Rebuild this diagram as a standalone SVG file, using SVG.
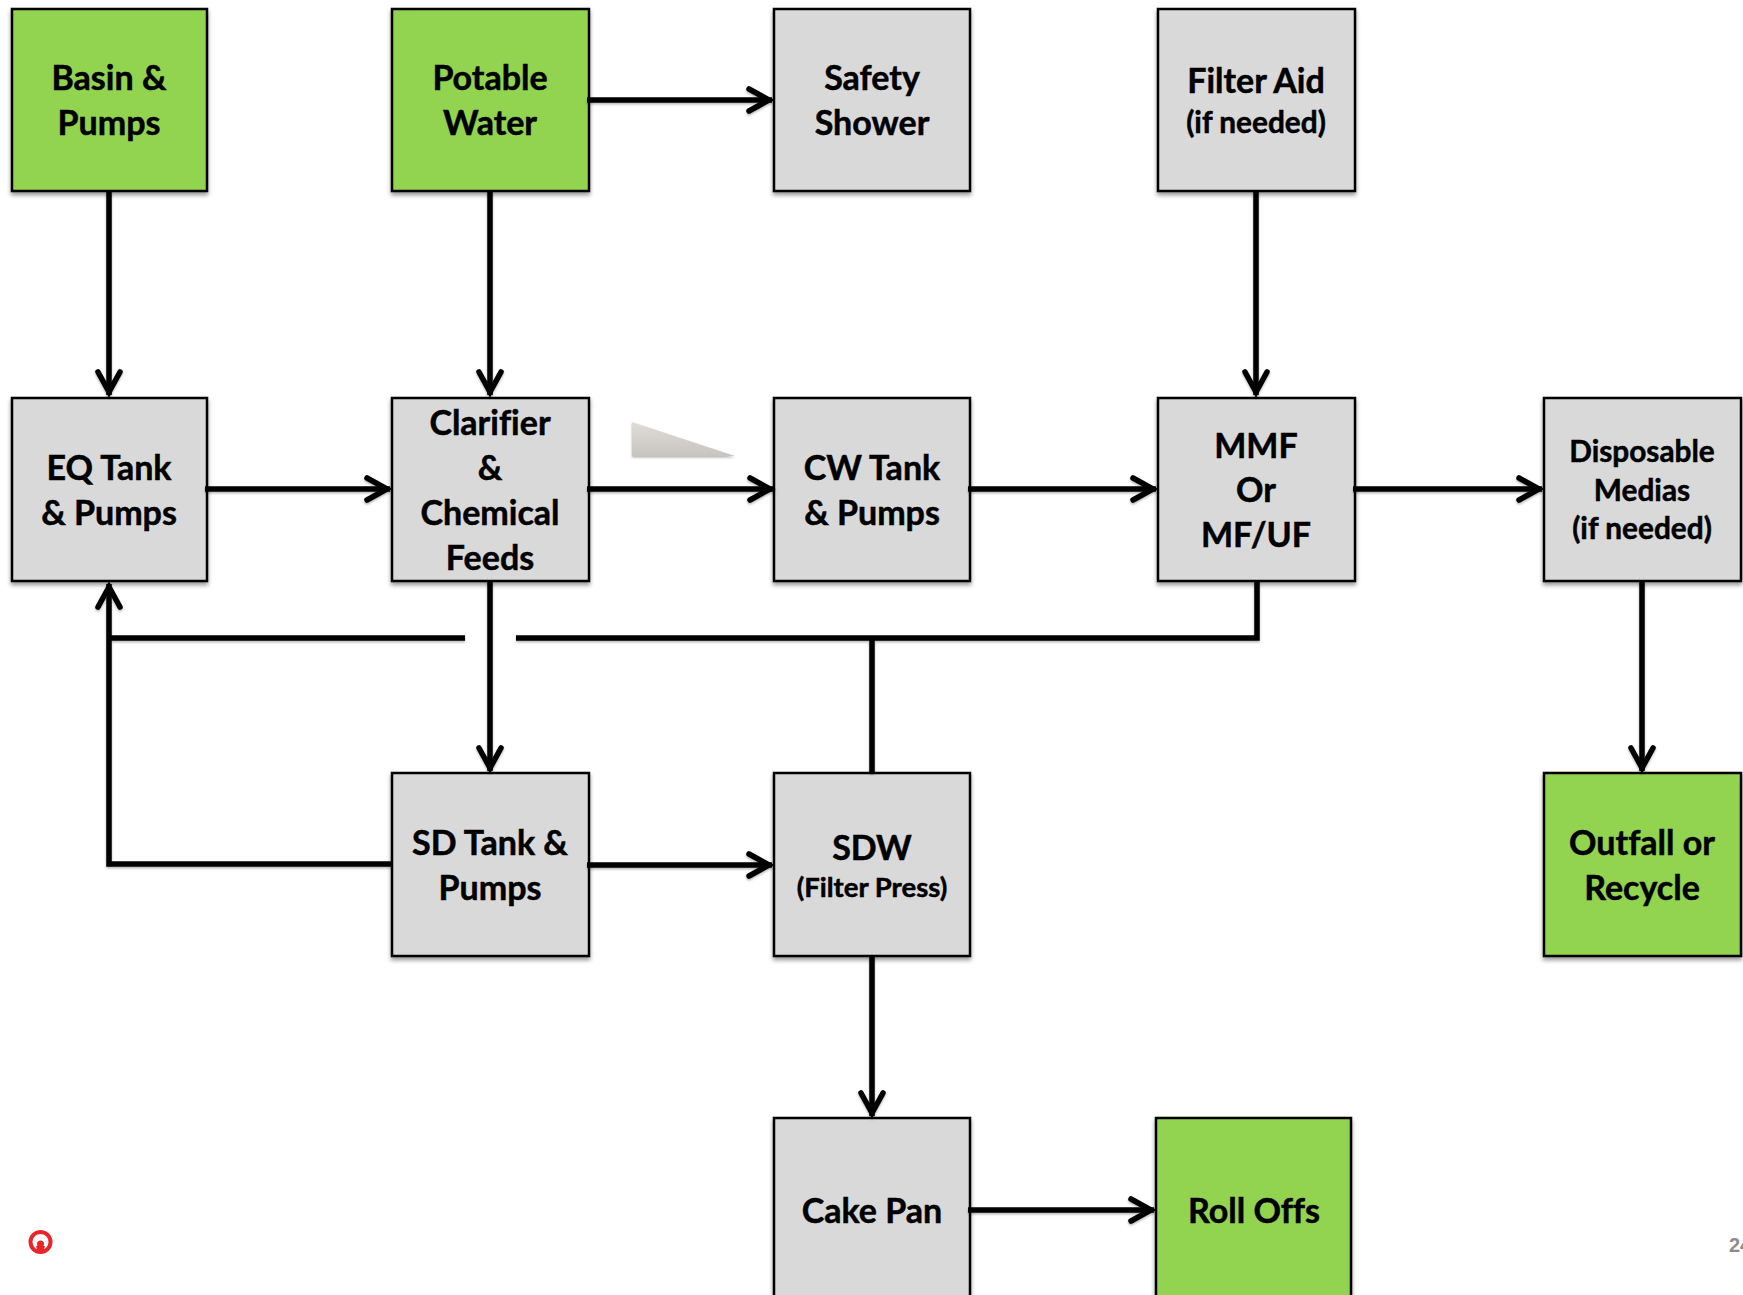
<svg xmlns="http://www.w3.org/2000/svg" width="1743" height="1295" viewBox="0 0 1743 1295">
<style>
.box{stroke:#000;stroke-width:2.5}
.g{fill:#d9d9d9}.v{fill:#92d350}
text{font-family:Lato,"Liberation Sans",sans-serif;font-weight:700;text-anchor:middle;fill:#000;stroke:#000;stroke-width:.5px;font-variant-ligatures:none;font-size:34px}
.s1{font-size:29.8px}.s2{font-size:27.5px}
.c{fill:none;stroke:#000;stroke-width:5.500}
.a{marker-end:url(#arr)}
.n{filter:url(#sh)}
</style>
<defs>
<filter id="sh" filterUnits="userSpaceOnUse" x="0" y="0" width="1743" height="1295"><feDropShadow dx="0" dy="3" stdDeviation="2" flood-color="#000" flood-opacity=".4"/></filter>
<filter id="lsh" filterUnits="userSpaceOnUse" x="0" y="0" width="1743" height="1295"><feDropShadow dx="0" dy="1.500" stdDeviation="1" flood-color="#000" flood-opacity=".3"/></filter>
<marker id="arr" markerUnits="userSpaceOnUse" markerWidth="34" markerHeight="34" viewBox="0 0 34 34" refX="30" refY="17" orient="auto">
<path d="M7 6 L27 17 L7 28" fill="none" stroke="#000" stroke-width="5.500" stroke-linecap="round" stroke-linejoin="miter"/>
</marker>
<linearGradient id="tri" x1="0" y1="0" x2="0" y2="1"><stop offset="0" stop-color="#e0dcd8"/><stop offset="1" stop-color="#c8c4c0"/></linearGradient>
</defs>

<g id="n-basin"><rect class="box v n" x="12" y="9" width="195" height="182"/><text x="109" y="90">Basin &amp;</text><text x="109" y="135">Pumps</text></g>
<g id="n-potable"><rect class="box v n" x="392" y="9" width="197" height="182"/><text x="490" y="90">Potable</text><text x="490" y="135">Water</text></g>
<g id="n-safety"><rect class="box g n" x="774" y="9" width="196" height="182"/><text x="872" y="90">Safety</text><text x="872" y="135">Shower</text></g>
<g id="n-filteraid"><rect class="box g n" x="1158" y="9" width="197" height="182"/><text x="1256" y="93">Filter Aid</text><text class="s1" x="1256" y="133">(if needed)</text></g>
<g id="n-eq"><rect class="box g n" x="12" y="398" width="195" height="183"/><text x="109" y="480">EQ Tank</text><text x="109" y="525">&amp; Pumps</text></g>
<g id="n-clarifier"><rect class="box g n" x="392" y="398" width="197" height="183"/><text x="490" y="435">Clarifier</text><text x="490" y="480">&amp;</text><text x="490" y="525">Chemical</text><text x="490" y="570">Feeds</text></g>
<g id="n-cw"><rect class="box g n" x="774" y="398" width="196" height="183"/><text x="872" y="480">CW Tank</text><text x="872" y="525">&amp; Pumps</text></g>
<g id="n-mmf"><rect class="box g n" x="1158" y="398" width="197" height="183"/><text x="1256" y="458">MMF</text><text x="1256" y="502">Or</text><text x="1256" y="547">MF/UF</text></g>
<g id="n-disposable"><rect class="box g n" x="1544" y="398" width="197" height="183"/><text class="s1" x="1642" y="462">Disposable</text><text class="s1" x="1642" y="501">Medias</text><text class="s1" x="1642" y="539">(if needed)</text></g>
<g id="n-sd"><rect class="box g n" x="392" y="773" width="197" height="183"/><text x="490" y="855">SD Tank &amp;</text><text x="490" y="900">Pumps</text></g>
<g id="n-sdw"><rect class="box g n" x="774" y="773" width="196" height="183"/><text x="872" y="860">SDW</text><text class="s2" x="872" y="897">(Filter Press)</text></g>
<g id="n-outfall"><rect class="box v n" x="1544" y="773" width="197" height="183"/><text x="1642" y="855">Outfall or</text><text x="1642" y="900">Recycle</text></g>
<g id="n-cake"><rect class="box g n" x="774" y="1118" width="196" height="190"/><text x="872" y="1223">Cake Pan</text></g>
<g id="n-rolloffs"><rect class="box v n" x="1156" y="1118" width="195" height="190"/><text x="1254" y="1223">Roll Offs</text></g>

<g id="connectors" filter="url(#lsh)">
<path class="c a" d="M109 191V395"/>
<path class="c a" d="M490 191V395"/>
<path class="c a" d="M587 100H772"/>
<path class="c a" d="M1256 191V395"/>
<path class="c a" d="M205 489H390"/>
<path class="c a" d="M587 489H773"/>
<path class="c a" d="M968 489H1156"/>
<path class="c a" d="M1353 489H1542"/>
<path class="c a" d="M490 581V771"/>
<path class="c a" d="M1642 581V771"/>
<path class="c a" d="M587 865H772"/>
<path class="c a" d="M872 956V1116"/>
<path class="c a" d="M968 1210H1154"/>
<path class="c a" d="M392 864H109V584"/>
<path class="c" d="M109 638H465"/>
<path class="c" d="M516 638H1257V581"/>
<path class="c" d="M872 638V773"/>
</g>

<path d="M632 422L735 456H632Z" fill="url(#tri)" filter="url(#lsh)"/>
<g id="logo"><circle cx="40.500" cy="1242" r="10" fill="none" stroke="#e8262a" stroke-width="4"/><circle cx="40.500" cy="1244" r="3.500" fill="#e8262a"/><path d="M36 1246L45 1246L43 1253H38Z" fill="#e8262a"/></g>
<text x="1729" y="1252" style="text-anchor:start;font-family:'Liberation Sans',sans-serif;font-size:20px;fill:#8c8c8c;stroke:none">24</text>
</svg>
